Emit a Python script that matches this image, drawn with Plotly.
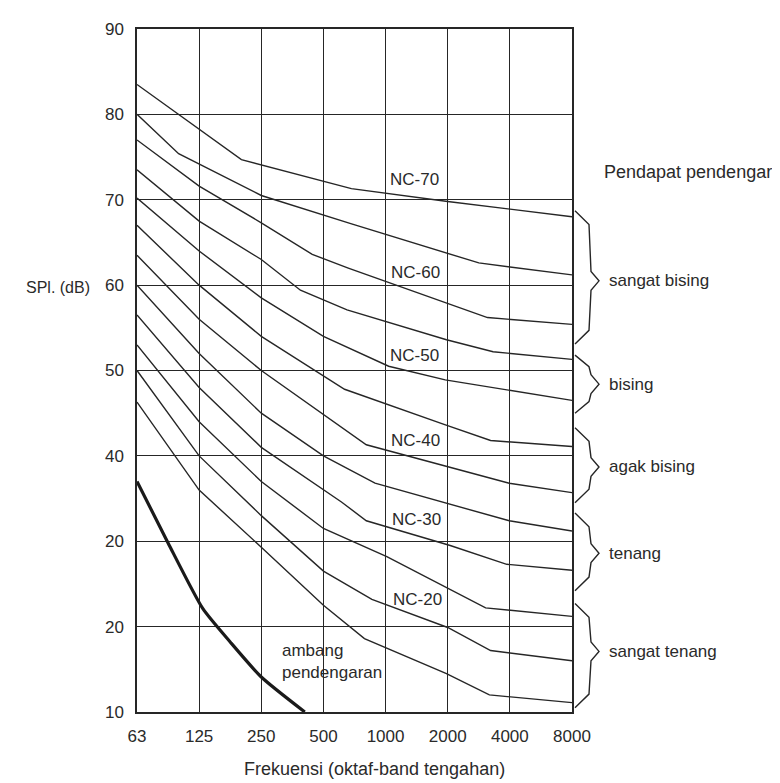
import plotly.graph_objects as go

# ---------------- data ----------------
freq_labels = ["63", "125", "250", "500", "1000", "2000", "4000", "8000"]
octave_pos = [0, 1, 2, 3, 4, 5, 6, 7]
y_tick_vals = [90, 80, 70, 60, 50, 40, 30, 20, 10]
y_tick_text = ["90", "80", "70", "60", "50", "40", "20", "20", "10"]

# NC curves: x = octave-band index (0 = 63 Hz ... 7 = 8000 Hz), y = SPL dB
nc70_x = [0, 1.68, 3.45, 5.0, 7]
nc70_y = [83.5, 74.7, 71.3, 69.8, 68.0]
nc65_x = [0, 0.67, 2, 3.44, 5.5, 7]
nc65_y = [80.0, 75.4, 70.5, 67.2, 62.6, 61.2]
nc60_x = [0, 1, 2, 2.82, 3.4, 5.0, 5.64, 7]
nc60_y = [77.0, 71.6, 67.3, 63.6, 62.0, 57.9, 56.2, 55.4]
nc55_x = [0, 1, 2, 2.63, 3.38, 4.98, 5.73, 7]
nc55_y = [73.5, 67.5, 63.0, 59.4, 57.1, 53.6, 52.2, 51.3]
nc50_x = [0, 1, 2, 3, 4.05, 4.96, 7]
nc50_y = [70.2, 64.0, 58.5, 54.0, 50.5, 48.9, 46.5]
nc45_x = [0, 1, 2, 3.34, 4.94, 5.69, 7]
nc45_y = [67.0, 60.0, 54.0, 47.8, 43.7, 41.8, 41.1]
nc40_x = [0, 1, 2, 3.33, 3.69, 5.99, 7]
nc40_y = [63.5, 56.0, 50.0, 43.2, 41.3, 36.8, 35.7]
nc35_x = [0, 1, 2, 3, 3.83, 5.99, 7]
nc35_y = [60.0, 52.0, 45.0, 40.0, 36.8, 32.4, 31.2]
nc30_x = [0, 1, 2, 3.29, 3.69, 5.04, 5.95, 7]
nc30_y = [56.5, 48.0, 41.0, 34.6, 32.4, 29.5, 27.3, 26.6]
nc25_x = [0, 1, 2, 3, 4.02, 5.61, 7]
nc25_y = [53.0, 44.0, 37.0, 31.5, 28.2, 22.2, 21.2]
nc20_x = [0, 1, 2, 3, 3.78, 5.0, 5.69, 7]
nc20_y = [50.0, 40.0, 33.0, 26.5, 23.2, 19.9, 17.2, 16.0]
nc15_x = [0, 1, 2, 3, 3.66, 4.98, 5.67, 7]
nc15_y = [46.3, 36.0, 29.3, 22.5, 18.6, 14.5, 12.0, 11.1]

# hearing threshold (ambang pendengaran)
thr_x = [0, 0.5, 1.06, 1.5, 2.0, 2.7]
thr_y = [37.0, 29.8, 22.1, 18.2, 14.1, 10.0]

# curve labels (name, x index, dB)
nc_labels = ["NC-70", "NC-60", "NC-50", "NC-40", "NC-30", "NC-20"]
nc_label_x = [4.04, 4.06, 4.04, 4.06, 4.07, 4.08]
nc_label_y = [72.4, 61.5, 51.7, 41.8, 32.5, 23.2]

# listener opinion groups (label, top dB, bottom dB, middle dB)
opinion_labels = ["sangat bising", "bising", "agak bising", "tenang", "sangat tenang"]
opinion_top = [68.7, 51.8, 43.3, 33.3, 22.7]
opinion_bottom = [53.1, 45.0, 34.5, 24.2, 10.5]
opinion_mid = [60.5, 48.4, 38.7, 28.6, 17.1]

# ---------------- figure ----------------
FONT = "Liberation Sans, Arial, Helvetica, sans-serif"
INK = "#262626"
TXT = "#2a2a2a"

OFF = 8                      # default page margin of the html body
FW, FH = 780 - OFF, 783 - OFF
# plot-area edges in screen pixels
L, R, T, B = 137, 572, 20, 712
PW, PH = R - L, B - T

fig = go.Figure()

curves = [
    (nc70_x, nc70_y), (nc65_x, nc65_y), (nc60_x, nc60_y), (nc55_x, nc55_y),
    (nc50_x, nc50_y), (nc45_x, nc45_y), (nc40_x, nc40_y), (nc35_x, nc35_y),
    (nc30_x, nc30_y), (nc25_x, nc25_y), (nc20_x, nc20_y), (nc15_x, nc15_y),
]
for cx, cy in curves:
    fig.add_trace(go.Scatter(x=cx, y=cy, mode="lines",
                             line=dict(color=INK, width=1.4),
                             showlegend=False, hoverinfo="skip"))

fig.add_trace(go.Scatter(x=thr_x, y=thr_y, mode="lines",
                         line=dict(color="#1a1a1a", width=3.2, shape="spline", smoothing=0.6),
                         showlegend=False, hoverinfo="skip"))

for name, lx, ly in zip(nc_labels, nc_label_x, nc_label_y):
    fig.add_annotation(x=lx, y=ly, text=name, showarrow=False, xanchor="left",
                       yanchor="middle", font=dict(family=FONT, size=17, color=TXT))

fig.add_annotation(x=2.3, y=15.9, text="ambang<br>pendengaran", showarrow=False,
                   xanchor="left", yanchor="middle", align="left",
                   font=dict(family=FONT, size=17, color=TXT))


def py(db):
    return (db - 10) / 80.0


def px_off(dx):
    return 1 + dx / PW


# right-hand opinion braces and labels
for lab, top, bot, mid in zip(opinion_labels, opinion_top, opinion_bottom, opinion_mid):
    a = min(1.6, (top - bot) / 5)
    h = 1.1
    pts = [(3, top), (17, top - a), (19, mid + h), (27, mid), (19, mid - h),
           (17, bot + a), (3, bot)]
    path = "M " + " L ".join(f"{px_off(dx):.5f},{py(v):.5f}" for dx, v in pts)
    fig.add_shape(type="path", path=path, xref="paper", yref="paper",
                  line=dict(color=INK, width=1.4))
    fig.add_annotation(x=px_off(35), y=py(mid), xref="paper", yref="paper",
                       text=lab, showarrow=False, xanchor="left", yanchor="middle",
                       font=dict(family=FONT, size=17, color=TXT))

fig.add_annotation(x=px_off(30), y=py(73.2), xref="paper", yref="paper",
                   text="Pendapat pendengar", showarrow=False, xanchor="left",
                   yanchor="middle", font=dict(family=FONT, size=18, color=TXT))

# axis titles
fig.add_annotation(x=(374 - L) / PW, y=(B - 770) / PH, xref="paper", yref="paper",
                   text="Frekuensi (oktaf-band tengahan)", showarrow=False,
                   xanchor="center", yanchor="middle",
                   font=dict(family=FONT, size=18, color=TXT))
fig.add_annotation(x=(92 - L) / PW, y=(B - 282) / PH, xref="paper", yref="paper",
                   text="SPl. (dB)", showarrow=False, xanchor="right",
                   yanchor="middle", font=dict(family=FONT, size=16, color=TXT))

fig.update_xaxes(range=[0, 7], tickvals=octave_pos, ticktext=freq_labels,
                 showgrid=True, gridcolor=INK, gridwidth=1.4, zeroline=False,
                 showline=True, mirror=True, linecolor=INK, linewidth=1.5,
                 ticks="", ticklabelstandoff=8,
                 tickfont=dict(family=FONT, size=17, color=TXT))
fig.update_yaxes(range=[10, 90], tickvals=y_tick_vals, ticktext=y_tick_text,
                 showgrid=True, gridcolor=INK, gridwidth=1.4, zeroline=False,
                 showline=True, mirror=True, linecolor=INK, linewidth=1.5,
                 ticks="", ticklabelstandoff=8,
                 tickfont=dict(family=FONT, size=17, color=TXT))

fig.update_layout(width=FW, height=FH, autosize=False,
                  margin=dict(l=L - OFF, r=FW - (R - OFF), t=T - OFF, b=FH - (B - OFF)),
                  paper_bgcolor="white", plot_bgcolor="white",
                  showlegend=False)

fig.write_html("out.html")
